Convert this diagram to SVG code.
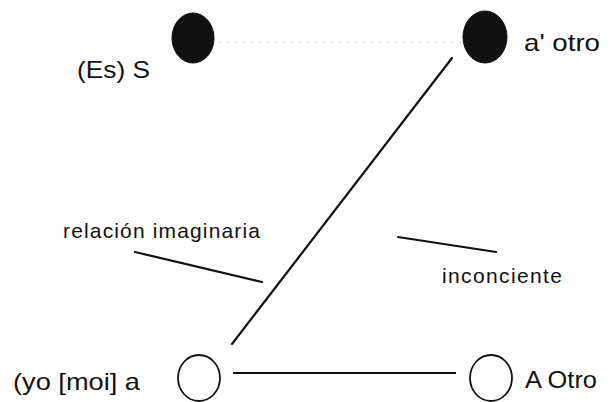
<svg xmlns="http://www.w3.org/2000/svg" width="613" height="402" viewBox="0 0 613 402">
<style>
.lbl{font-family:"Liberation Sans",Arial,sans-serif;fill:#111;}
.big{font-size:24px;}
.small{font-size:21px;}
.solid{stroke:#111;stroke-width:2.2;fill:none;stroke-linecap:round;}
.thin{stroke:#111;stroke-width:1.8;fill:none;}
.filled{fill:#111;stroke:#111;stroke-width:1;}
.open{fill:#fff;stroke:#111;stroke-width:1.8;}
.dots{stroke:#aaa;stroke-width:1;stroke-dasharray:1 7;fill:none;}
</style>
<rect width="613" height="402" fill="#fff"/>
<g id="connectors">
<line class="dots" x1="220" y1="42" x2="461" y2="42"/>
<line class="solid" x1="452" y1="58" x2="232" y2="344"/>
<line class="thin" x1="233" y1="373" x2="456" y2="373"/>
<line class="solid" x1="135" y1="252" x2="262" y2="282"/>
<line class="solid" x1="398" y1="237" x2="496" y2="252"/>
</g>
<g id="node-S">
<ellipse class="filled" cx="193" cy="38" rx="21" ry="25"/>
<text class="lbl big" x="77" y="78" textLength="73" lengthAdjust="spacingAndGlyphs">(Es) S</text>
</g>
<g id="node-a-otro">
<ellipse class="filled" cx="485" cy="37" rx="22" ry="26"/>
<text class="lbl big" x="524" y="51" textLength="76" lengthAdjust="spacingAndGlyphs">a' otro</text>
</g>
<g id="node-yo">
<ellipse class="open" cx="199" cy="378" rx="21" ry="23"/>
<text class="lbl big" x="13" y="390" textLength="127" lengthAdjust="spacingAndGlyphs">(yo [moi] a</text>
</g>
<g id="node-A-Otro">
<ellipse class="open" cx="491" cy="378" rx="21" ry="23"/>
<text class="lbl big" x="525" y="388" textLength="72" lengthAdjust="spacingAndGlyphs">A Otro</text>
</g>
<g id="labels">
<text class="lbl small" x="63" y="238" textLength="197" lengthAdjust="spacing">relación imaginaria</text>
<text class="lbl small" x="442" y="283" textLength="120" lengthAdjust="spacing">inconciente</text>
</g>
</svg>
